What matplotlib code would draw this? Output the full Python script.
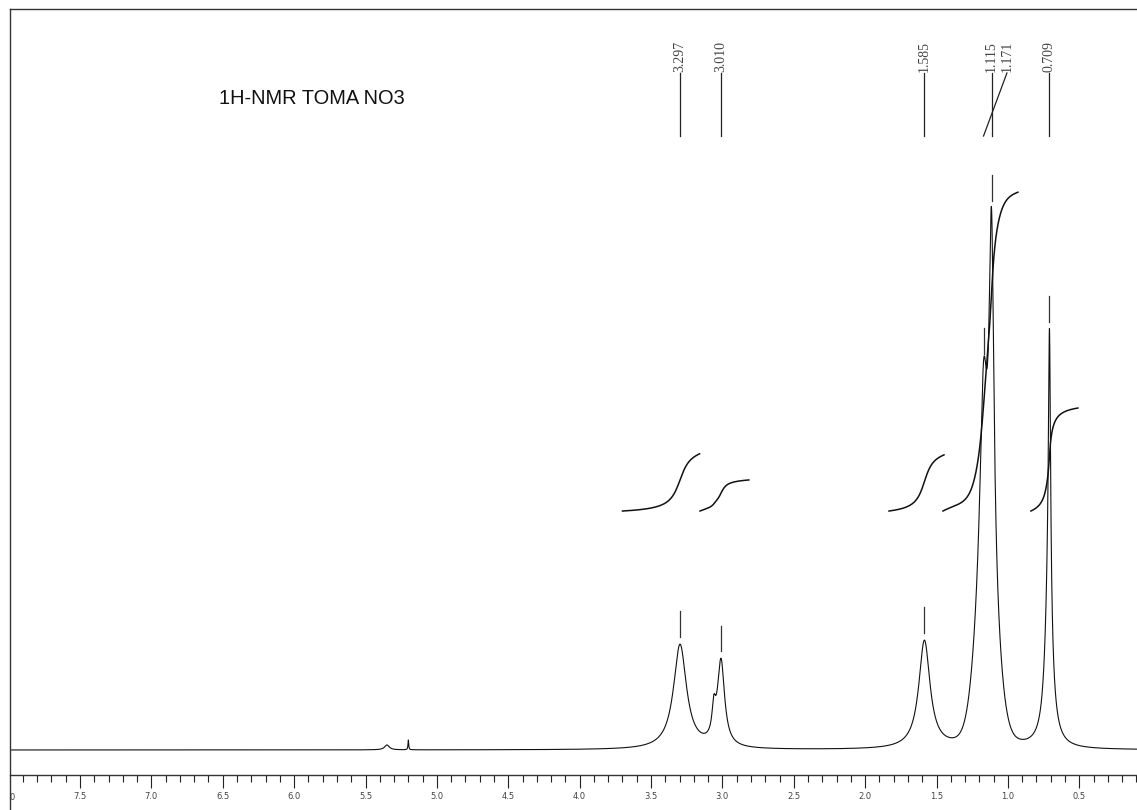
import numpy as np
import matplotlib
matplotlib.use("Agg")
import matplotlib.pyplot as plt
from matplotlib.ticker import MultipleLocator
from matplotlib.transforms import Bbox, TransformedBbox, blended_transform_factory
from matplotlib.lines import Line2D

# ---- spectrum data -------------------------------------------------------
# Resonances: position (ppm), height (a.u.), full width at half maximum (ppm),
# and Lorentzian fraction of the pseudo-Voigt line shape
peak_ppm    = [5.350, 5.200, 3.297, 3.060, 3.010, 1.585, 1.171, 1.150, 1.115, 0.715, 0.709]
peak_height = [0.9,   1.8,   19.2,  5.0,   15.7,  19.8,  35.0,  30.0,  65.0,  28.0,  50.0]
peak_fwhm   = [0.040, 0.006, 0.110, 0.030, 0.060, 0.095, 0.060, 0.160, 0.040, 0.060, 0.018]
peak_lfrac  = [1.0,   1.0,   1.0,   1.0,   1.0,   1.0,   1.0,   0.0,   1.0,   1.0,   1.0]

# Picked peaks shown at the top
label_ppm = [3.297, 3.010, 1.585, 1.171, 1.115, 0.709]

# Integral regions (ppm) and the rise of each integral trace (a.u.)
integral_from = [3.700, 3.157, 1.833, 1.455, 0.839]
integral_to   = [3.160, 2.815, 1.448, 0.930, 0.510]
integral_rise = [10.5, 5.7, 10.3, 58.5, 18.9]
integral_base = 43.85

major_ticks = [7.5, 7.0, 6.5, 6.0, 5.5, 5.0, 4.5, 4.0, 3.5, 3.0, 2.5, 2.0, 1.5, 1.0, 0.5]
title = "1H-NMR TOMA NO3"

# ---- figure geometry -----------------------------------------------------
W, H = 1137, 810
PX_PER_PPM = 142.76
PX_PER_UNIT = 5.45
AX_LEFT_PX, AX_TOP_PX, AX_BOTTOM_PX = 10, 9, 775
BASE_PX = 750
PPM_AT_0 = 7.5 + 80 / PX_PER_PPM

fig = plt.figure(figsize=(W / 100, H / 100), dpi=100)
fig.patch.set_facecolor("white")
ax = fig.add_axes([AX_LEFT_PX / W, 1 - AX_BOTTOM_PX / H,
                   1 - AX_LEFT_PX / W, (AX_BOTTOM_PX - AX_TOP_PX) / H])
ax.set_facecolor("white")

x_left = PPM_AT_0 - AX_LEFT_PX / PX_PER_PPM
x_right = PPM_AT_0 - W / PX_PER_PPM
ax.set_xlim(x_left, x_right)
ax.set_ylim(-(AX_BOTTOM_PX - BASE_PX) / PX_PER_UNIT, (BASE_PX - AX_TOP_PX) / PX_PER_UNIT)


def spectrum(x):
    x = np.asarray(x, dtype=float)
    y = np.zeros_like(x)
    for p, h, w, eta in zip(peak_ppm, peak_height, peak_fwhm, peak_lfrac):
        d = (x - p) / (w / 2.0)
        lor = 1.0 / (1.0 + d ** 2)
        gau = np.exp(-np.log(2.0) * d ** 2)
        y += h * (eta * lor + (1.0 - eta) * gau)
    return y


ppm = np.linspace(x_left, x_right, 20000)
ax.plot(ppm, spectrum(ppm), color="#111111", lw=0.8)

# integral traces
for a, b, rise in zip(integral_from, integral_to, integral_rise):
    xs = np.linspace(a, b, 600)
    ys = spectrum(xs)
    cum = np.concatenate([[0], np.cumsum(0.5 * (ys[1:] + ys[:-1]) * np.abs(np.diff(xs)))])
    cum = cum / cum[-1] * rise
    ax.plot(xs, integral_base + cum, color="#111111", lw=1.1)

# peak picking marks and labels
mark_gap, mark_len = 1.3, 4.7
line_lo = (BASE_PX - 136) / PX_PER_UNIT
line_hi = (BASE_PX - 73) / PX_PER_UNIT
text_y = (BASE_PX - 72) / PX_PER_UNIT
label_shift = {1.171: -0.164}
for p in label_ppm:
    v = spectrum([p])[0]
    ax.plot([p, p], [v + mark_gap, v + mark_gap + mark_len], color="#333333", lw=0.9)
    lx = p + label_shift.get(p, 0.0)
    ax.plot([p, lx], [line_lo, line_hi], color="#222222", lw=0.9)
    ax.text(lx, text_y, f"{p:.3f}", rotation=90, ha="center", va="bottom",
            fontsize=10, family="Liberation Serif", color="#444444")

# title
fig.text(219 / W, 1 - 99 / H, title, ha="left", va="center",
         fontsize=14.4, family="Liberation Sans", color="#111111")

# frame and axis
for side in ("right", "left"):
    ax.spines[side].set_visible(False)
for side in ("top", "bottom"):
    ax.spines[side].set_color("#333333")
    ax.spines[side].set_linewidth(1.0)
fig.add_artist(Line2D([AX_LEFT_PX / W, AX_LEFT_PX / W], [0, 1 - AX_TOP_PX / H],
                      transform=fig.transFigure, color="#333333", lw=1.0))

ax.set_yticks([])
ax.xaxis.set_minor_locator(MultipleLocator(0.1))
ax.set_xticks(major_ticks)
ax.set_xticklabels([f"{t:.1f}" for t in major_ticks])
ax.tick_params(axis="x", which="major", direction="out", length=9.4, width=0.8,
               color="#222222", pad=3.0, labelsize=6, labelcolor="#444444")
ax.tick_params(axis="x", which="minor", direction="out", length=4.8, width=0.8,
               color="#222222")
ax.tick_params(axis="x", top=False)
for lab in ax.get_xticklabels():
    lab.set_family("DejaVu Sans")

# leftmost scale value, cut by the frame
tr = blended_transform_factory(ax.transData, fig.transFigure)
t8 = ax.text(8.0, 1 - 798 / H, "8.0", transform=tr, ha="center", va="center",
             fontsize=6, family="DejaVu Sans", color="#444444", clip_on=True)
t8.set_clip_box(TransformedBbox(Bbox([[AX_LEFT_PX / W + 0.0005, 0], [1, 1]]), fig.transFigure))

fig.savefig("out.png", dpi=100, facecolor="white")
